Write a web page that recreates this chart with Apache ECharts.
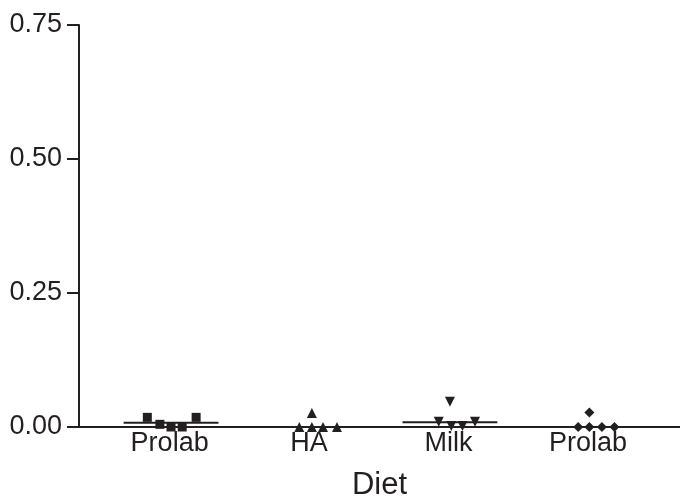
<!DOCTYPE html>
<html>
<head>
<meta charset="utf-8">
<script src="https://cdn.jsdelivr.net/npm/echarts@6/dist/echarts.min.js"></script>
<style>html,body{margin:0;padding:0;background:#fff}#c{width:680px;height:501px}</style>
</head>
<body>
<div id="c"></div>
<script>
// Categories (x positions 1..4)
var categories = ['Prolab', 'HA', 'Milk', 'Prolab'];
var yTicks = [0, 0.25, 0.5, 0.75];

// Jittered x positions (category units) and values
var prolab1X = [0.84, 0.93, 1.01, 1.09, 1.19];
var prolab1Y = [0.018, 0.005, 0.0, 0.0, 0.018];
var haX = [1.93, 2.02, 2.02, 2.10, 2.20];
var haY = [0.0, 0.026, 0.0, 0.0, 0.0];
var milkX = [2.93, 3.01, 3.02, 3.10, 3.19];
var milkY = [0.010, 0.047, 0.002, 0.002, 0.010];
var prolab2X = [3.93, 4.01, 4.01, 4.10, 4.19];
var prolab2Y = [0.0, 0.027, 0.0, 0.0, 0.0];

// Median lines: category position, value
var medianX = [1.01, 2.02, 3.01, 4.01];
var medianY = [0.008, 0.0, 0.009, 0.0];

var ink = '#231f20';
var font = 'Liberation Sans, Arial, Helvetica, sans-serif';

function pts(xs, ys) { return xs.map(function (x, i) { return [x, ys[i]]; }); }

var chart = echarts.init(document.getElementById('c'));
chart.setOption({
  animation: false,
  backgroundColor: '#fff',
  grid: { left: 79, right: 0, top: 25, bottom: 74, containLabel: false, outerBoundsMode: 'none' },
  xAxis: {
    type: 'value', min: 0.35, max: 4.66,
    name: 'Diet', nameLocation: 'middle', nameGap: 43, nameMoveOverlap: false,
    nameTextStyle: { fontFamily: font, fontSize: 31, color: ink },
    axisLine: { show: true, onZero: false, lineStyle: { color: ink, width: 2 } },
    axisTick: { show: false },
    splitLine: { show: false },
    axisLabel: {
      customValues: [1, 2, 3, 4],
      formatter: function (v) { return categories[Math.round(v) - 1] || ''; },
      fontFamily: font, fontSize: 27, color: ink, margin: 3
    }
  },
  yAxis: {
    type: 'value', min: 0, max: 0.75, interval: 0.25,
    axisLine: { show: true, lineStyle: { color: ink, width: 2 } },
    axisTick: { show: true, length: 12, lineStyle: { color: ink, width: 2 } },
    splitLine: { show: false },
    axisLabel: {
      formatter: function (v) { return v.toFixed(2); },
      fontFamily: font, fontSize: 27, color: ink, margin: 17
    }
  },
  series: [
    { type: 'scatter', data: pts(prolab1X, prolab1Y), symbol: 'rect', symbolSize: 9, itemStyle: { color: ink, opacity: 1 } },
    { type: 'scatter', data: pts(haX, haY), symbol: 'triangle', symbolSize: 10, itemStyle: { color: ink, opacity: 1 } },
    { type: 'scatter', data: pts(milkX, milkY), symbol: 'triangle', symbolRotate: 180, symbolSize: 10, itemStyle: { color: ink, opacity: 1 } },
    { type: 'scatter', data: pts(prolab2X, prolab2Y), symbol: 'diamond', symbolSize: 10, itemStyle: { color: ink, opacity: 1 } },
    {
      type: 'custom',
      data: pts(medianX, medianY),
      renderItem: function (params, api) {
        var a = api.coord([api.value(0) - 0.34, api.value(1)]);
        var b = api.coord([api.value(0) + 0.34, api.value(1)]);
        return { type: 'line', shape: { x1: a[0], y1: a[1], x2: b[0], y2: b[1] }, style: { stroke: ink, lineWidth: 2 } };
      },
      z: 1
    }
  ]
});
</script>
</body>
</html>
